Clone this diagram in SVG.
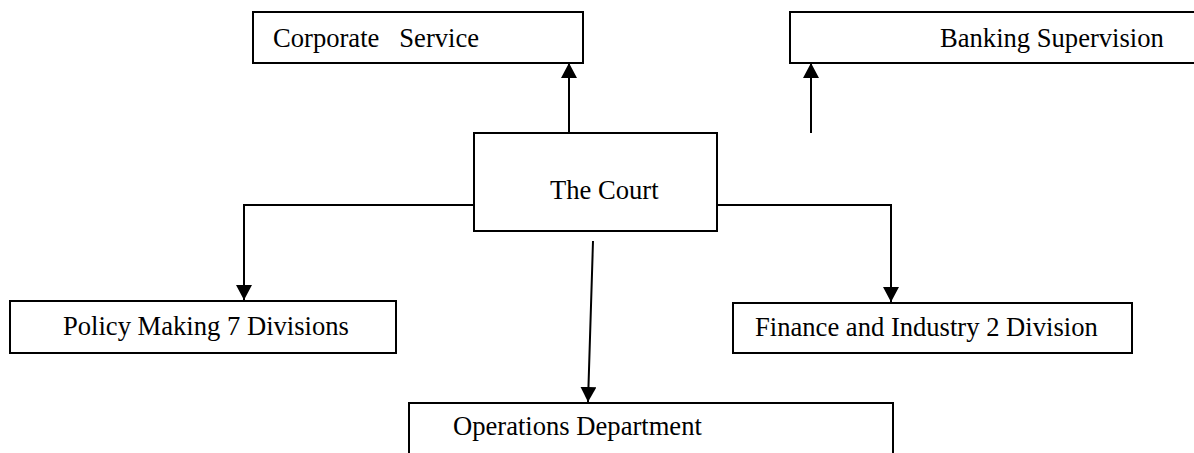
<svg xmlns="http://www.w3.org/2000/svg" width="1194" height="453" viewBox="0 0 1194 453">
<style>
.box{fill:#fff;stroke:#000;stroke-width:2}
.lbl{font-family:"Liberation Serif","Times New Roman",serif;font-size:26.6px;fill:#000;white-space:pre}
.con{fill:none;stroke:#000;stroke-width:2}
</style>
<defs>
<marker id="ah" markerUnits="userSpaceOnUse" markerWidth="16" markerHeight="16" viewBox="0 0 16 16" refX="15" refY="8" orient="auto">
<path d="M0,0 L15,8 L0,16 Z" fill="#000"/>
</marker>
</defs>
<rect width="1194" height="453" fill="#fff"/>
<g id="corporate-service">
<rect class="box" x="253" y="12" width="330" height="51"/>
<text class="lbl" x="273" y="47" xml:space="preserve">Corporate   Service</text>
</g>
<g id="banking-supervision">
<rect class="box" x="790" y="12" width="420" height="51"/>
<text class="lbl" x="940" y="47">Banking Supervision</text>
</g>
<g id="the-court">
<rect class="box" x="474" y="133" width="243" height="98"/>
<text class="lbl" x="550" y="199">The Court</text>
</g>
<g id="policy-making">
<rect class="box" x="10" y="301" width="386" height="52"/>
<text class="lbl" x="63" y="335">Policy Making 7 Divisions</text>
</g>
<g id="finance-industry">
<rect class="box" x="733" y="303" width="399" height="50"/>
<text class="lbl" x="755" y="336">Finance and Industry 2 Division</text>
</g>
<g id="operations">
<rect class="box" x="409" y="403" width="484" height="60"/>
<text class="lbl" x="453" y="435">Operations Department</text>
</g>
<g id="connectors">
<path class="con" d="M569,133 L569,63" marker-end="url(#ah)"/>
<path class="con" d="M811,133 L811,63" marker-end="url(#ah)"/>
<path class="con" d="M474,205 L244,205 L244,300" marker-end="url(#ah)"/>
<path class="con" d="M717,205 L891,205 L891,302" marker-end="url(#ah)"/>
<path class="con" d="M593,241 L588,402" marker-end="url(#ah)"/>
</g>
</svg>
